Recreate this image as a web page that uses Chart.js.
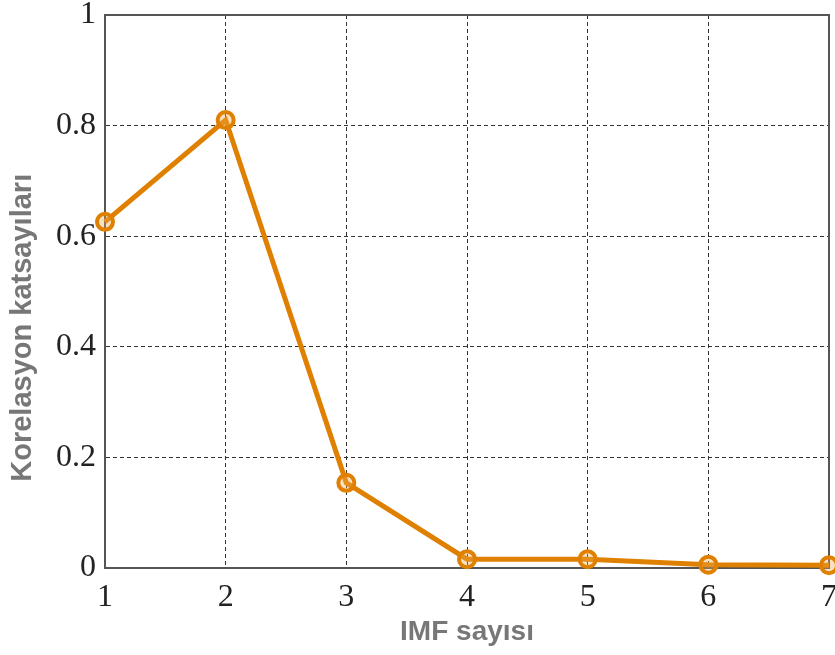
<!DOCTYPE html>
<html>
<head>
<meta charset="utf-8">
<script src="https://cdn.jsdelivr.net/npm/chart.js@4.4.1/dist/chart.umd.min.js"></script>
<style>
  html, body { margin: 0; padding: 0; background: #fff; overflow: hidden; }
  #wrap { width: 835px; height: 655px; overflow: hidden; }
</style>
</head>
<body>
<div id="wrap"><canvas id="korChart" width="841" height="655"></canvas></div>
<script>
// IMF sayısı ve korelasyon katsayıları
var imfNo = [1, 2, 3, 4, 5, 6, 7];
var korelasyon = [0.626, 0.81, 0.154, 0.016, 0.016, 0.006, 0.005];
var yTicks = [0, 0.2, 0.4, 0.6, 0.8, 1];
var yEtiketler = ['0', '0.2', '0.4', '0.6', '0.8', '1'];

var noktalar = imfNo.map(function (x, i) { return { x: x, y: korelasyon[i] }; });

var ctx = document.getElementById('korChart').getContext('2d');
var korChart = new Chart(ctx, {
    type: 'line',
    data: {
        datasets: [{
            data: noktalar,
            borderColor: '#e08000',
            borderWidth: 5,
            pointRadius: 8,
            pointBorderWidth: 4,
            pointBackgroundColor: 'rgba(240,170,80,0.35)',
            pointBorderColor: '#e08000',
            tension: 0,
            clip: false
        }]
    },
    options: {
        responsive: false,
        animation: false,
        layout: { padding: { top: 15, right: 1, left: 0, bottom: 0 } },
        plugins: { legend: { display: false }, tooltip: { enabled: false } },
        scales: {
            x: {
                type: 'linear',
                min: 1, max: 7,
                afterFit: function (s) { s.height = 87; s.paddingRight = 0; s.paddingLeft = 0; },
                afterBuildTicks: function (s) { s.ticks = imfNo.map(function (v) { return { value: v }; }); },
                grid: { color: '#333', lineWidth: 1, drawTicks: false },
                border: { color: '#555', width: 2, dash: [4, 3] },
                ticks: { color: '#222', padding: 10, font: { family: 'Liberation Serif', size: 32 } },
                title: { display: true, text: 'IMF sayısı', color: '#777', padding: { top: 0, bottom: 6 },
                         font: { family: 'Liberation Sans', size: 28, weight: 'bold' } }
            },
            y: {
                min: 0, max: 1,
                afterFit: function (s) { s.width = 105; s.paddingTop = 0; s.paddingBottom = 0; },
                afterBuildTicks: function (s) { s.ticks = yTicks.map(function (v) { return { value: v }; }); },
                grid: { color: '#333', lineWidth: 1, drawTicks: false },
                border: { color: '#555', width: 2, dash: [4, 3] },
                ticks: {
                    color: '#222', padding: 9, font: { family: 'Liberation Serif', size: 32 },
                    callback: function (v, i) { return yEtiketler[i]; }
                },
                title: { display: true, text: 'Korelasyon katsayıları         ', color: '#777',
                         padding: { top: 6, bottom: 0 },
                         font: { family: 'Liberation Sans', size: 29, weight: 'bold' } }
            }
        }
    },
    plugins: [{
        // sağ ve üst çerçeve
        id: 'cerceve',
        beforeDatasetsDraw: function (chart) {
            var a = chart.chartArea, c = chart.ctx;
            c.save();
            c.strokeStyle = '#555';
            c.lineWidth = 2;
            c.beginPath();
            c.moveTo(a.left, a.top); c.lineTo(a.right, a.top); c.lineTo(a.right, a.bottom);
            c.stroke();
            c.restore();
        }
    }]
});
</script>
</body>
</html>
